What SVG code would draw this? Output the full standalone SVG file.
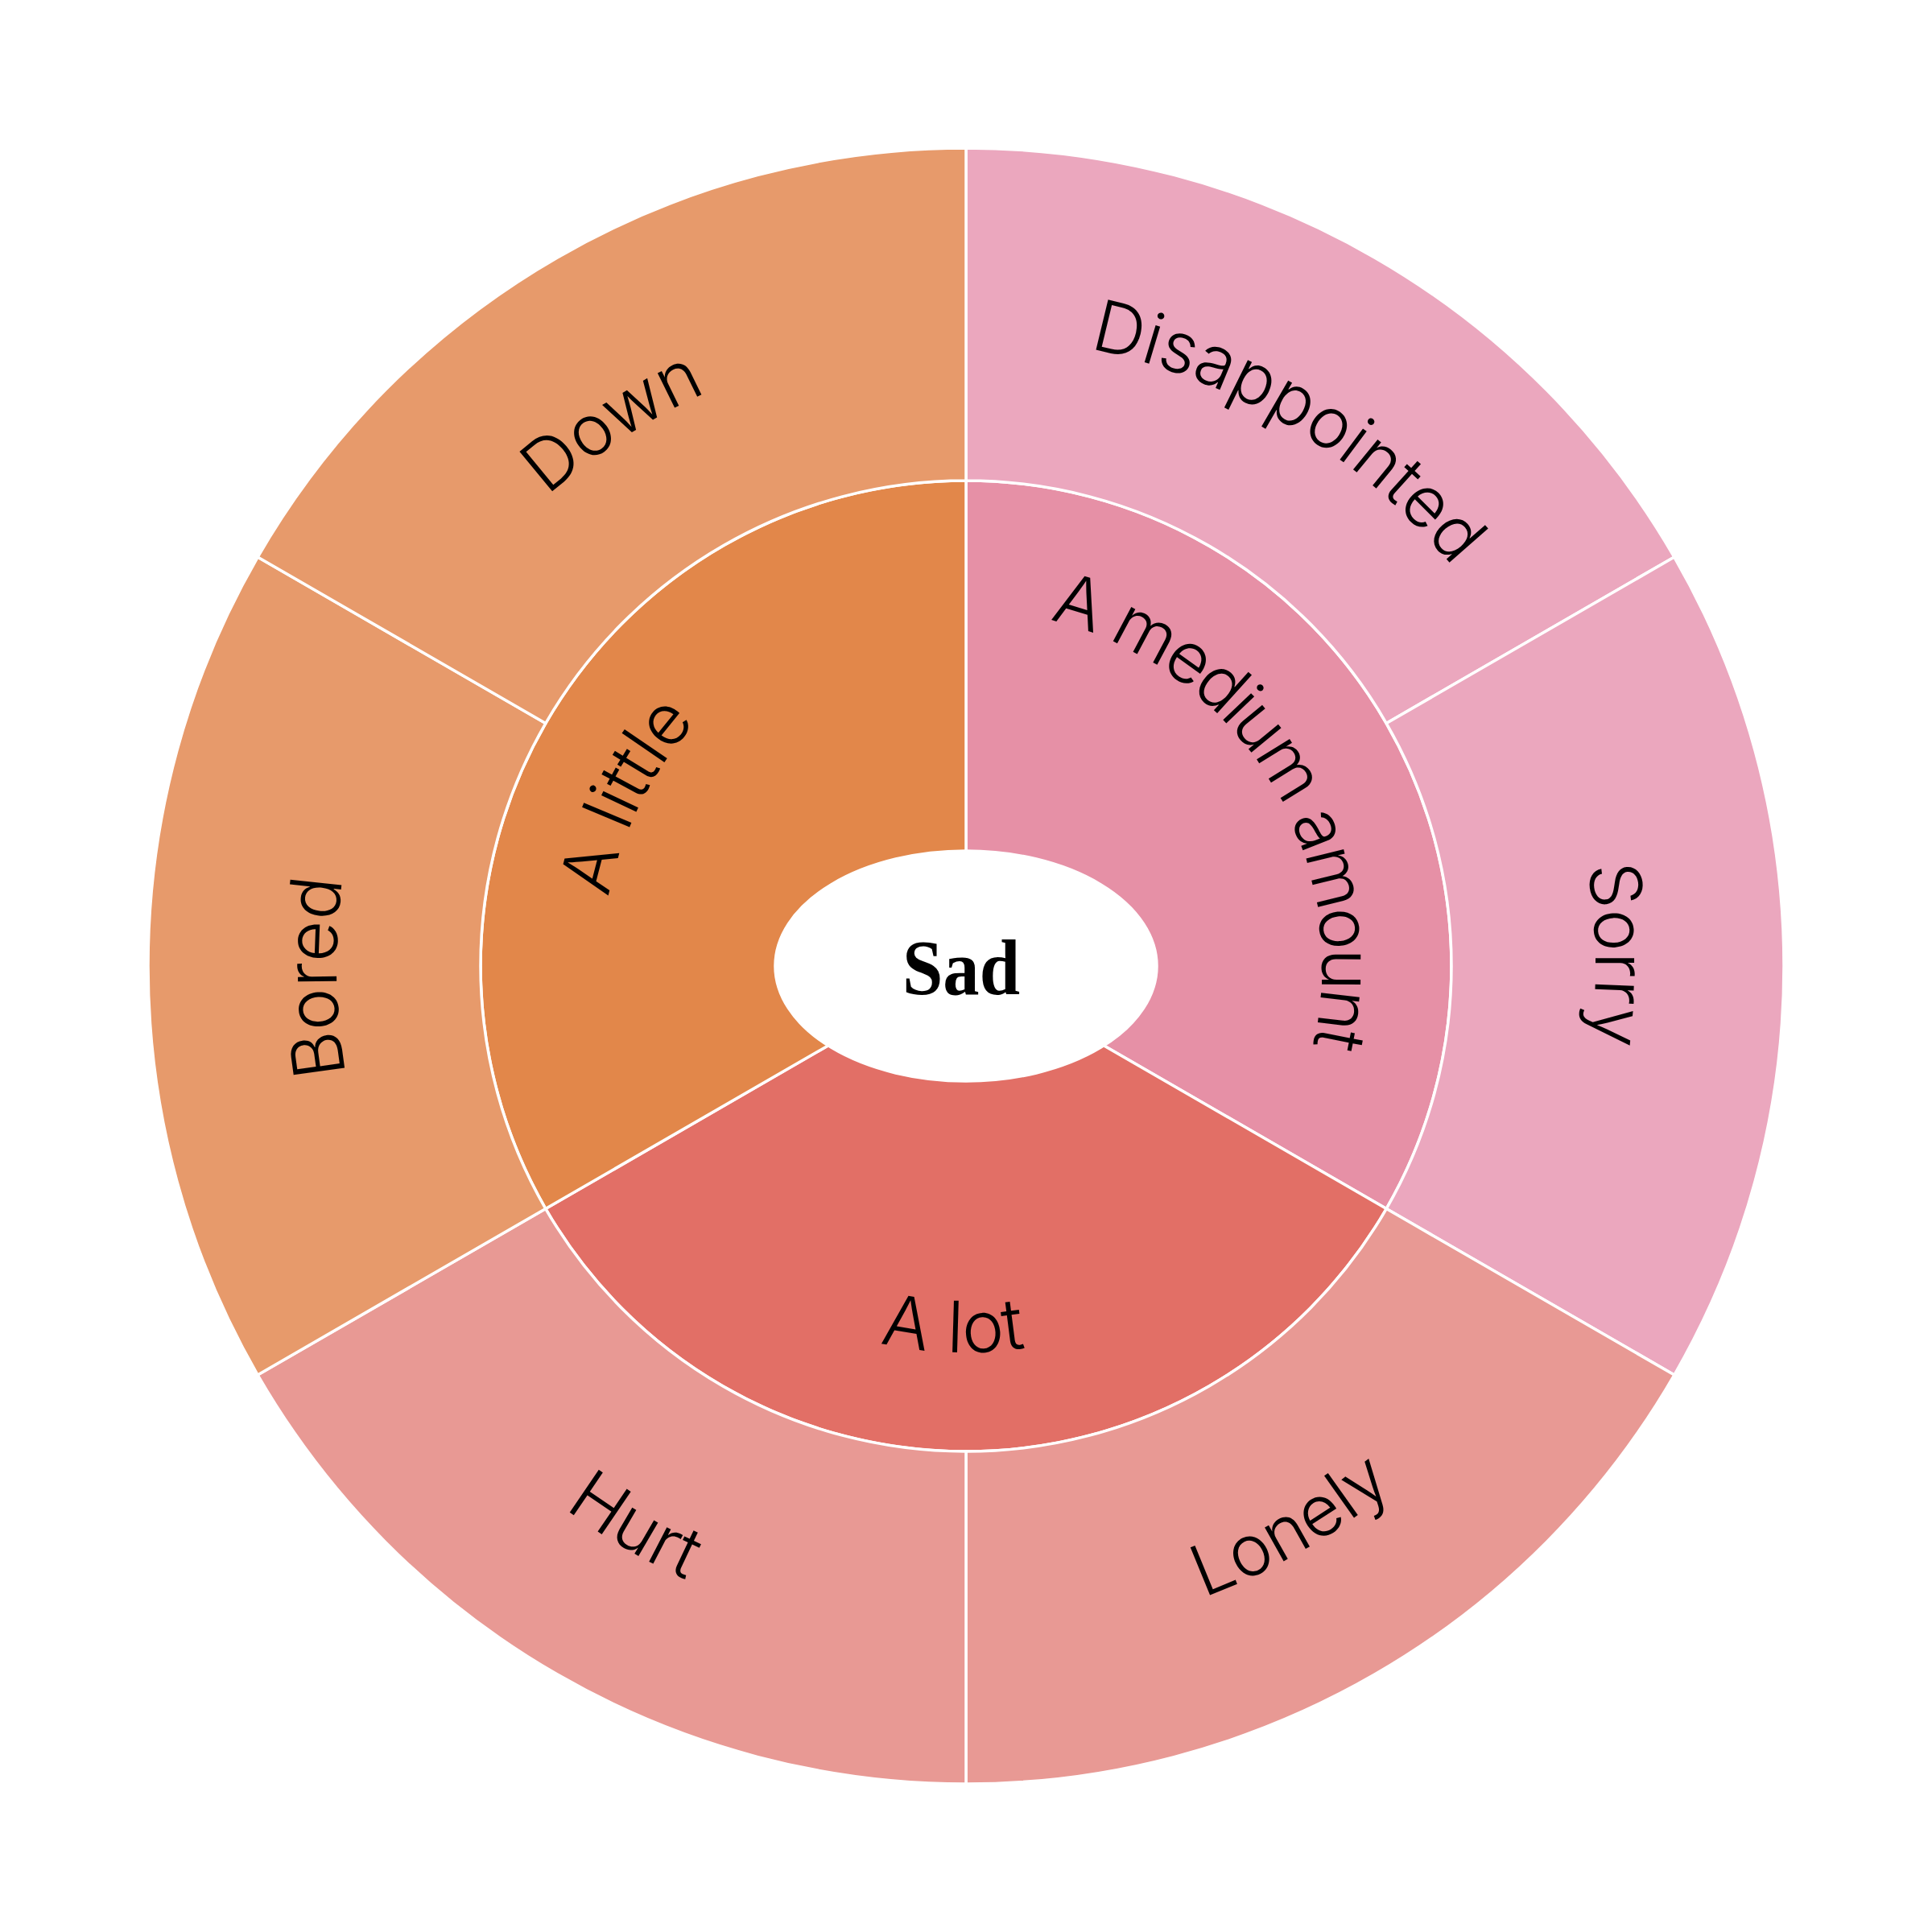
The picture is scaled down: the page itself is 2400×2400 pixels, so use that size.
<svg xmlns="http://www.w3.org/2000/svg" xmlns:xlink="http://www.w3.org/1999/xlink" width="2400" height="2400" viewBox="0 0 2400 2400">
<style>
.seg{stroke:#ffffff;stroke-width:3.5;stroke-linejoin:round}
.lbl{font-family:Inter,"Liberation Sans",sans-serif;font-weight:260;font-size:88px;fill:#000000}
.center{font-family:"Liberation Serif",serif;font-weight:bold;font-size:98px;fill:#000000}
</style>
<defs>
<path id="p-disappointed" d="M 707.9,592.3 A 782 782 0 0 1 1967.6,1349.2"/>
<path id="p-sorry" d="M 1579.1,516.0 A 782 782 0 0 1 1602.8,1870.3"/>
<path id="p-bored" d="M 820.9,1883.9 A 782 782 0 0 1 797.2,529.7"/>
<path id="p-down" d="M 419.1,1240.9 A 782 782 0 0 1 1555.0,503.2"/>
<path id="p-lonely" d="M 781,1925.7 A 838 838 0 0 0 2038,1200"/>
<path id="p-hurt" d="M 362.0,1192.7 A 838 838 0 0 0 1612.6,1929.4"/>
<path id="p-alittle" d="M 872.1,1511.1 A 452 452 0 0 1 1251.2,750.9"/>
<path id="p-amedium" d="M 1034.4,790.2 A 442 442 0 0 1 1495.8,1528.5"/>
<path id="p-alot" d="M 776.2,1425.3 A 480 480 0 0 0 1607.1,1454.4"/>
</defs>
<rect width="2400" height="2400" fill="#ffffff"/>

<g id="inner-a-medium-amount">
<path class="seg" fill="#E690A6" d="M 1200,1200 L 1200,597 A 603 603 0 0 1 1722.21,1501.5 Z"/>
</g>
<g id="inner-a-lot">
<path class="seg" fill="#E26F66" d="M 1200,1200 L 1722.21,1501.5 A 603 603 0 0 1 677.79,1501.5 Z"/>
</g>
<g id="inner-a-little">
<path class="seg" fill="#E2874A" d="M 1200,1200 L 677.79,1501.5 A 603 603 0 0 1 1200,597 Z"/>
</g>

<g id="outer-disappointed">
<path class="seg" fill="#EBA7BE" d="M 1200,184 A 1016 1016 0 0 1 2079.88,692 L 1722.21,898.5 A 603 603 0 0 0 1200,597 Z"/>
</g>
<g id="outer-sorry">
<path class="seg" fill="#EBA7BE" d="M 2079.88,692 A 1016 1016 0 0 1 2079.88,1708 L 1722.21,1501.5 A 603 603 0 0 0 1722.21,898.5 Z"/>
</g>
<g id="outer-lonely">
<path class="seg" fill="#E89994" d="M 2079.88,1708 A 1016 1016 0 0 1 1200,2216 L 1200,1803 A 603 603 0 0 0 1722.21,1501.5 Z"/>
</g>
<g id="outer-hurt">
<path class="seg" fill="#E89994" d="M 1200,2216 A 1016 1016 0 0 1 320.12,1708 L 677.79,1501.5 A 603 603 0 0 0 1200,1803 Z"/>
</g>
<g id="outer-bored">
<path class="seg" fill="#E79A6B" d="M 320.12,1708 A 1016 1016 0 0 1 320.12,692 L 677.79,898.5 A 603 603 0 0 0 677.79,1501.5 Z"/>
</g>
<g id="outer-down">
<path class="seg" fill="#E79A6B" d="M 320.12,692 A 1016 1016 0 0 1 1200,184 L 1200,597 A 603 603 0 0 0 677.79,898.5 Z"/>
</g>

<g id="center-sad">
<ellipse cx="1200" cy="1200" rx="237" ry="143" fill="#ffffff" stroke="#ffffff" stroke-width="3.5"/>
<text class="center" x="1194" y="1235" text-anchor="middle" textLength="146" lengthAdjust="spacingAndGlyphs">Sad</text>
</g>

<g id="labels">
<text class="lbl"><textPath xlink:href="#p-disappointed" href="#p-disappointed" startOffset="50%" text-anchor="middle">Disappointed</textPath></text>
<text class="lbl"><textPath xlink:href="#p-sorry" href="#p-sorry" startOffset="50%" text-anchor="middle">Sorry</textPath></text>
<text class="lbl"><textPath xlink:href="#p-bored" href="#p-bored" startOffset="50%" text-anchor="middle">Bored</textPath></text>
<text class="lbl"><textPath xlink:href="#p-down" href="#p-down" startOffset="50%" text-anchor="middle">Down</textPath></text>
<text class="lbl"><textPath xlink:href="#p-lonely" href="#p-lonely" startOffset="50%" text-anchor="middle">Lonely</textPath></text>
<text class="lbl"><textPath xlink:href="#p-hurt" href="#p-hurt" startOffset="50%" text-anchor="middle">Hurt</textPath></text>
<text class="lbl"><textPath xlink:href="#p-alittle" href="#p-alittle" startOffset="50%" text-anchor="middle">A little</textPath></text>
<text class="lbl" letter-spacing="-4"><textPath xlink:href="#p-amedium" href="#p-amedium" startOffset="50%" text-anchor="middle">A medium amount</textPath></text>
<text class="lbl"><textPath xlink:href="#p-alot" href="#p-alot" startOffset="50%" text-anchor="middle">A lot</textPath></text>
</g>
</svg>
